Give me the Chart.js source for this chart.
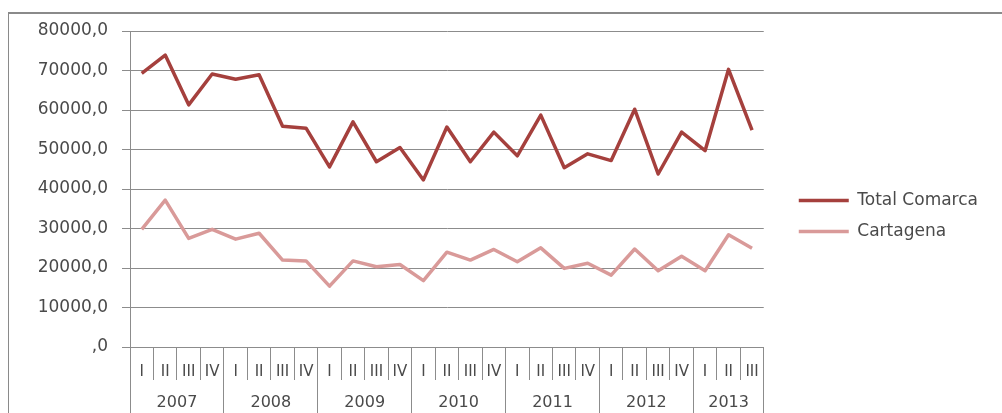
<!DOCTYPE html>
<html>
<head>
<meta charset="utf-8">
<script src="https://cdn.jsdelivr.net/npm/chart.js@4/dist/chart.umd.min.js"></script>
<style>
  html, body { margin: 0; padding: 0; background: #fff; }
  #wrap { position: relative; width: 1002px; height: 413px; overflow: hidden; }
  #frame { position: absolute; left: 8px; top: 12px; width: 1100px; height: 500px;
           border-left: 1px solid #8a8a8a; border-top: 2px solid #8a8a8a; }
  #chart { position: absolute; left: 0; top: 0; }
</style>
</head>
<body>
<div id="wrap">
  <div id="frame"></div>
  <canvas id="chart" width="1002" height="413"></canvas>
</div>
<script>
// categories (quarters) and years
const quarters = ['I', 'II', 'III', 'IV', 'I', 'II', 'III', 'IV', 'I', 'II', 'III', 'IV',
                  'I', 'II', 'III', 'IV', 'I', 'II', 'III', 'IV', 'I', 'II', 'III', 'IV',
                  'I', 'II', 'III'];
const years = ['2007', '2008', '2009', '2010', '2011', '2012', '2013'];
const quartersPerYear = [4, 4, 4, 4, 4, 4, 3];

// series
const totalComarca = [69300, 73900, 61300, 69100, 67800, 68900, 55900, 55400, 45600, 57000,
                      46900, 50500, 42300, 55700, 46900, 54400, 48400, 58700, 45400, 48900,
                      47200, 60200, 43800, 54400, 49700, 70300, 54900];
const cartagena = [29800, 37200, 27500, 29800, 27300, 28800, 22000, 21800, 15400, 21800,
                   20300, 20900, 16800, 24000, 22000, 24700, 21600, 25100, 19900, 21200,
                   18200, 24800, 19300, 23000, 19300, 28400, 25000];

// y ticks
const yTicks = [0, 10000, 20000, 30000, 40000, 50000, 60000, 70000, 80000];

// year axis: boundaries get a separator, centres get the year label
const yearTicks = [];
const yearLabelAt = {};
let pos = 0;
quartersPerYear.forEach((n, i) => {
  yearTicks.push(pos);
  yearTicks.push(pos + n / 2);
  yearLabelAt[pos + n / 2] = years[i];
  pos += n;
});
yearTicks.push(pos);

const gridColor = '#8c8c8c';
const textColor = '#4a4a4a';
Chart.defaults.font.family = 'DejaVu Sans';
Chart.defaults.color = textColor;

new Chart(document.getElementById('chart'), {
  type: 'line',
  data: {
    labels: quarters,
    datasets: [{
      label: 'Total Comarca',
      data: totalComarca,
      borderColor: '#a5403d',
      backgroundColor: '#a5403d',
      borderWidth: 3.5,
      pointRadius: 0,
      tension: 0,
      borderJoinStyle: 'round'
    }, {
      label: 'Cartagena',
      data: cartagena,
      borderColor: '#d99a99',
      backgroundColor: '#d99a99',
      borderWidth: 3.5,
      pointRadius: 0,
      tension: 0,
      borderJoinStyle: 'round'
    }]
  },
  options: {
    responsive: false,
    animation: false,
    devicePixelRatio: 1,
    layout: { padding: { left: 8, top: 31, right: 14, bottom: 0 } },
    plugins: {
      tooltip: { enabled: false },
      legend: {
        position: 'right',
        fullSize: false,
        maxWidth: 300,
        title: { display: true, text: '', padding: { top: 0, bottom: 35 }, font: { size: 16 } },
        labels: {
          usePointStyle: true,
          pointStyle: 'line',
          pointStyleWidth: 50,
          boxHeight: 16,
          padding: 14,
          color: textColor,
          font: { size: 17 }
        }
      }
    },
    scales: {
      y: {
        min: 0,
        max: 80000,
        afterBuildTicks: s => { s.ticks = yTicks.map(v => ({ value: v })); },
        afterFit: s => { s.width = 122; },
        ticks: {
          padding: 14,
          font: { size: 17 },
          callback: v => (v === 0 ? ',0' : v + ',0')
        },
        grid: { color: gridColor, tickColor: gridColor, tickLength: 8, lineWidth: 1 },
        border: { color: gridColor }
      },
      gap: {
        type: 'linear',
        position: 'right',
        afterFit: s => { s.width = 21; },
        ticks: { display: false },
        grid: { display: false },
        border: { display: false }
      },
      x: {
        type: 'category',
        position: 'bottom',
        offset: true,
        afterFit: s => { s.height = 33; },
        ticks: { padding: -17, maxRotation: 0, autoSkip: false, font: { size: 15 } },
        grid: { offset: true, drawOnChartArea: false, color: gridColor, tickLength: 33 },
        border: { color: gridColor }
      },
      x2: {
        type: 'linear',
        position: 'bottom',
        min: 0,
        max: quarters.length,
        afterFit: s => { s.height = 33; },
        afterBuildTicks: s => { s.ticks = yearTicks.map(v => ({ value: v })); },
        ticks: {
          padding: -20,
          maxRotation: 0,
          autoSkip: false,
          font: { size: 16 },
          callback: v => yearLabelAt[v] || ''
        },
        grid: {
          drawOnChartArea: false,
          tickLength: 33,
          color: c => (yearLabelAt[c.tick && c.tick.value] ? 'rgba(0,0,0,0)' : gridColor)
        },
        border: { display: false }
      }
    }
  }
});
</script>
</body>
</html>
